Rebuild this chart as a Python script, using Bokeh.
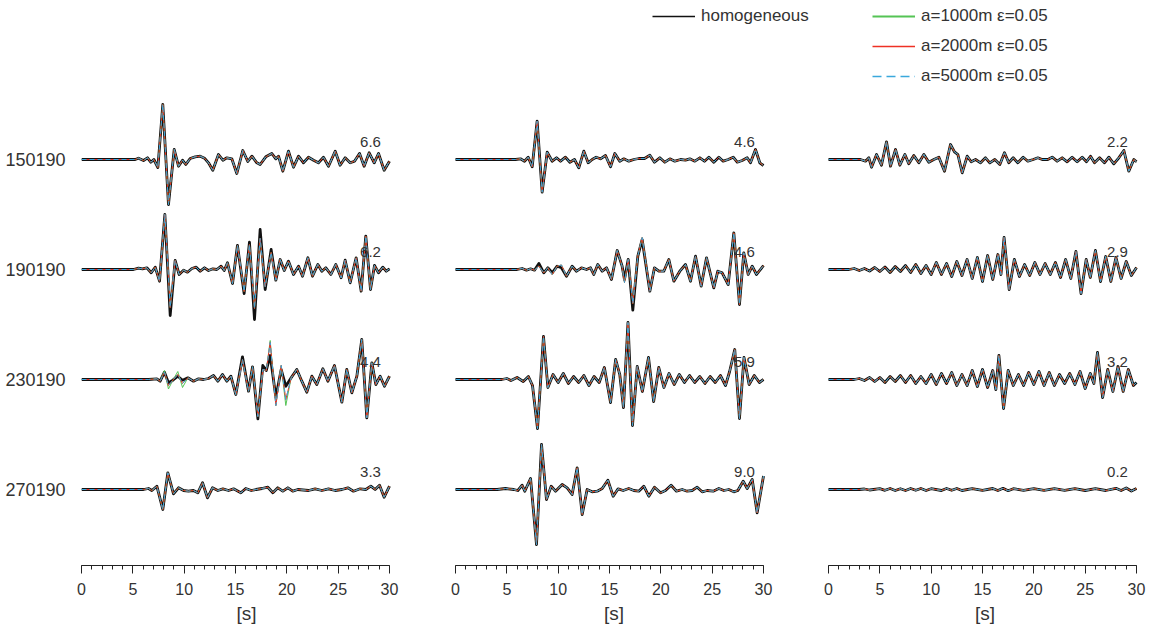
from bokeh.plotting import figure
from bokeh.models import Range1d, FixedTicker, SingleIntervalTicker, Legend, LegendItem
from bokeh.layouts import row
from bokeh.embed import file_html
from bokeh.resources import INLINE
from bokeh.core.properties import value

# ---------------------------------------------------------------- data
stations = ["150190", "190190", "230190", "270190"]

# peak values printed beside each trace, one list per column
peak_c1 = [6.6, 6.2, 4.4, 3.3]
peak_c2 = [4.6, 4.6, 5.9, 9.0]
peak_c3 = [2.2, 2.9, 3.2, 0.2]

# homogeneous model: (time [s], amplitude) at the turning points of each trace
w150190_c1 = [(0, 0), (5.23, 0), (5.55, 0.13), (6.04, -0.1), (6.43, 0.17), (6.75, -0.27), (7.05, 0), (7.44, -0.8),
              (7.92, 5.5), (8.47, -4.5), (9.03, 1.0), (9.45, -0.67), (9.84, -0.07), (10.16, -0.5), (10.58, 0.1),
              (11.07, 0.27), (11.56, 0.33), (11.98, 0.13), (12.37, -0.33), (12.79, -1.07), (13.34, 0.5), (13.77, -0.07),
              (14.16, 0.17), (14.64, 0.07), (15.13, -1.4), (15.71, 0.9), (16.2, -0.2), (16.6, 0.33), (17.08, -0.33),
              (17.4, -0.5), (17.95, 0.27), (18.54, 0.6), (18.93, 0.07), (19.19, 0.33), (19.61, -1.17), (20.16, 0.83),
              (20.65, -0.77), (21.14, 0.33), (21.62, -0.33), (22.11, 0.23), (22.6, -0.07), (23.08, -0.33), (23.57, 0.23),
              (24.06, -0.67), (24.71, 0.83), (25.19, -0.57), (25.68, 0.17), (26.17, -0.33), (26.59, -0.17), (27.08, 0.6),
              (27.53, -0.67), (28.02, 0.67), (28.51, -0.33), (28.93, 0.6), (29.48, -1.07), (30, -0.17)]
w190190_c1 = [(0, 0), (5.06, 0), (5.55, 0.13), (5.94, 0.07), (6.36, 0.17), (6.79, -0.33), (7.18, 0.23), (7.6, -1.17),
              (8.12, 5.5), (8.64, -4.6), (9.12, 0.9), (9.51, -0.5), (9.94, -0.07), (10.32, -0.27), (10.75, 0.1),
              (11.17, 0.23), (11.56, -0.17), (11.98, 0.17), (12.37, -0.1), (12.79, 0.07), (13.18, 0), (13.6, 0.33),
              (13.9, -0.1), (14.22, 0.67), (14.71, -1.4), (15.19, 2.4), (15.84, -2.4), (16.36, 2.73), (16.85, -5.0),
              (17.4, 4.0), (17.89, -2.0), (18.47, 2.0), (18.93, -1.07), (19.35, 1.0), (19.75, -0.1), (20.16, 0.83),
              (20.65, -0.5), (21.14, 0.33), (21.53, -0.67), (22.05, 1.17), (22.5, -0.67), (23.02, 0.5), (23.41, -0.17),
              (23.8, 0.17), (24.29, -0.5), (24.77, 0.5), (25.29, -0.83), (25.68, 0.93), (26.17, -1.33), (26.75, 1.17),
              (27.24, -2.17), (27.69, 3.33), (28.15, -2.0), (28.54, 0.4), (28.93, -0.33), (29.35, 0.23), (29.68, -0.17),
              (30, 0.07)]
w230190_c1 = [(0, 0), (6.53, 0), (7.34, 0.07), (7.66, -0.17), (8.08, 0.73), (8.47, -0.33), (8.9, -0.07), (9.38, 0.33),
              (9.84, -0.07), (10.36, 0.17), (10.91, -0.17), (11.4, 0.07), (11.88, 0), (12.37, 0.1), (12.86, 0.4),
              (13.28, -0.17), (13.73, 0.5), (14.16, -0.17), (14.55, 0.33), (15.03, -1.5), (15.68, 2.27), (16.27, -1.17),
              (16.66, 1.27), (17.18, -3.93), (17.66, 1.4), (18.0, 0.9), (18.38, 2.4), (18.93, -1.77), (19.45, 1.0),
              (19.9, -0.67), (20.42, 0.17), (20.97, 1.0), (21.46, -0.17), (21.95, -1.27), (22.44, 0.33), (22.92, -0.5),
              (23.51, 1.07), (24.0, -0.17), (24.64, 1.4), (25.36, -2.27), (25.84, 1.0), (26.33, -1.33), (26.82, 0.33),
              (27.3, 4.0), (27.79, -3.83), (28.28, 1.67), (28.67, -0.5), (29.09, 0.33), (29.51, -0.67), (30, 0.33)]
w270190_c1 = [(0, 0), (6.04, 0), (6.53, 0.1), (6.85, -0.1), (7.34, 0.33), (7.92, -2.0), (8.41, 1.67), (8.96, -0.43),
              (9.45, 0.17), (9.94, -0.1), (10.42, -0.17), (10.9, -0.1), (11.33, -0.33), (11.79, 0.67), (12.27, -0.83),
              (12.76, 0.17), (13.28, -0.1), (13.77, 0.07), (14.32, -0.1), (14.81, 0.07), (15.52, -0.33), (16.0, 0.1),
              (16.53, -0.1), (17.01, 0), (17.56, 0.1), (18.15, 0.23), (18.64, -0.33), (19.12, 0.17), (19.61, -0.17),
              (20.1, 0.17), (20.58, -0.17), (21.07, 0), (22.11, -0.1), (22.76, 0.07), (23.41, -0.1), (24.06, 0.07),
              (24.71, -0.1), (25.36, 0), (25.94, 0.17), (26.49, -0.17), (27.14, 0.07), (27.69, 0), (28.18, 0.33),
              (28.6, 0), (29.03, 0.43), (29.48, -0.77), (30, 0.33)]

w150190_c2 = [(0, 0), (5.84, 0), (6.33, 0.07), (6.72, -0.17), (7.08, 0.23), (7.47, -0.73), (7.95, 3.83), (8.44, -3.27),
              (8.93, 0.73), (9.42, -0.17), (9.84, 0.17), (10.23, -0.17), (10.71, 0.23), (11.14, -0.27), (11.59, 0),
              (12.01, -0.83), (12.5, 0.83), (12.92, -0.33), (13.31, 0), (13.7, 0.23), (14.12, 0.07), (14.61, 0.4),
              (15.1, -0.73), (15.52, 0.6), (16.0, -0.17), (16.4, 0.07), (16.88, -0.17), (17.37, 0), (17.86, 0.1),
              (18.41, 0.1), (18.93, 0.43), (19.38, -0.27), (19.9, 0.17), (20.39, -0.27), (20.88, 0.07), (21.36, -0.17),
              (21.92, 0), (22.4, -0.07), (22.82, 0.07), (23.31, -0.17), (23.8, 0.17), (24.25, -0.17), (24.68, 0.23),
              (25.16, -0.27), (25.65, 0.23), (26.07, -0.17), (26.56, 0), (27.05, 0.23), (27.44, -0.27), (27.92, -0.1),
              (28.41, 0.17), (28.73, -0.33), (29.22, 1.0), (29.64, -0.33), (30, -0.6)]
w190190_c2 = [(0, 0), (6.0, 0), (6.49, 0.1), (6.92, -0.07), (7.31, 0.07), (7.69, -0.07), (8.12, 0.6), (8.6, -0.33),
              (8.99, 0.17), (9.42, -0.33), (9.9, 0.33), (10.32, 0.17), (10.81, -0.67), (11.36, 0.33), (11.79, -0.17),
              (12.27, 0.17), (12.76, 0), (13.15, 0.17), (13.47, -0.5), (13.86, 0.5), (14.29, -0.17), (14.71, 0.17),
              (15.19, -1.0), (15.75, 1.9), (16.23, 0.33), (16.46, -1.0), (16.82, 1.0), (17.27, -4.07), (17.76, 1.33),
              (18.18, 3.0), (18.93, -2.17), (19.38, 0.17), (19.81, -0.17), (20.29, -0.17), (20.78, 1.0), (21.27, -1.17),
              (21.85, -0.17), (22.4, 0.5), (22.89, -1.17), (23.38, 1.33), (23.93, -1.67), (24.45, 1.17), (25.16, -1.83),
              (25.55, -0.17), (25.97, -0.33), (26.56, -1.5), (27.11, 3.67), (27.66, -3.5), (28.08, 1.67), (28.51, -0.5),
              (28.9, 0.33), (29.32, -0.5), (30, 0.4)]
w230190_c2 = [(0, 0), (4.5, 0), (5.0, 0.1), (5.4, -0.1), (6.0, 0.2), (6.6, -0.2), (7.1, 0.3), (7.5, -0.6), (7.99, -4.9),
              (8.57, 4.3), (9.0, -0.8), (9.5, 0.5), (10.0, -0.3), (10.5, 0.6), (11.0, -0.4), (11.5, 0.3), (12.0, -0.3),
              (12.5, 0.4), (13.0, -0.6), (13.5, 0.3), (14.0, -0.3), (14.5, 1.2), (15.1, -2.3), (15.6, 2.0), (16.0, 0.5),
              (16.36, -2.8), (16.8, 5.7), (17.24, -4.6), (17.7, 1.3), (18.2, -1.2), (18.8, 2.2), (19.3, -2.2),
              (19.8, 1.2), (20.3, -0.8), (20.8, 0.6), (21.3, -0.5), (21.8, 0.5), (22.3, -0.3), (22.8, 0.4), (23.3, -0.3),
              (23.8, 0.3), (24.3, -0.4), (24.8, 0.3), (25.3, -0.3), (25.8, 0.4), (26.3, -0.6), (26.7, 0.8), (27.2, 3.0),
              (27.66, -3.9), (28.1, 2.2), (28.6, -0.5), (29.1, 0.4), (29.6, -0.3), (30, 0)]
w270190_c2 = [(0, 0), (4.06, 0), (4.87, 0.1), (5.68, 0), (6.07, -0.1), (6.49, 0.43), (6.75, -0.17), (7.31, 1.1),
              (7.89, -5.5), (8.38, 4.5), (8.86, -1.0), (9.32, 0.33), (9.74, -0.17), (10.39, 0.5), (10.88, 0.17),
              (11.36, -0.5), (11.85, 2.17), (12.34, -2.5), (12.82, 0), (13.31, -0.23), (13.8, -0.17), (14.29, 0.1),
              (14.84, 0.93), (15.36, -0.67), (15.84, 0.07), (16.33, -0.1), (16.88, 0.1), (17.37, -0.1), (17.85, -0.17),
              (18.34, 0.33), (18.83, -0.67), (19.38, 0.23), (19.97, -0.33), (20.45, -0.1), (21.0, 0.43), (21.53, -0.17),
              (22.08, 0), (22.56, -0.17), (23.05, -0.1), (23.54, 0.23), (24.03, -0.23), (24.51, -0.1), (25.1, -0.17),
              (25.65, 0.1), (26.14, -0.1), (26.62, 0), (27.11, -0.23), (27.5, -0.1), (28.02, 0.83), (28.41, 0.1),
              (28.9, 1.0), (29.38, -2.33), (30, 1.35)]

w150190_c3 = [(0, 0), (3.12, 0), (3.6, -0.17), (3.93, 0.17), (4.19, -0.77), (4.68, 0.5), (5.16, -0.57), (5.65, 1.77),
              (6.04, -0.67), (6.53, 1.0), (6.95, -0.57), (7.44, 0.5), (7.82, -0.43), (8.31, 0.4), (8.8, -0.33),
              (9.29, 0.5), (9.77, -0.27), (10.26, 0), (10.75, 0.23), (11.3, -1.17), (11.88, 1.5), (12.27, 0.77),
              (12.6, 0.5), (13.02, -1.33), (13.51, 0.33), (13.9, -0.23), (14.32, 0), (14.81, -0.33), (15.29, 0.17),
              (15.71, -0.33), (16.2, 0), (16.69, -0.5), (17.14, 0.67), (17.56, -0.33), (17.99, 0.17), (18.44, -0.33),
              (18.96, 0.23), (19.42, -0.17), (19.94, 0), (20.39, 0.17), (20.81, 0), (21.36, 0), (21.79, 0.23),
              (22.27, -0.17), (22.76, 0.17), (23.25, -0.23), (23.73, 0.23), (24.22, -0.23), (24.71, 0.23),
              (25.13, -0.23), (25.52, 0.33), (25.91, -0.33), (26.4, 0.17), (26.88, -0.33), (27.31, 0.23),
              (27.79, -0.43), (28.28, 0.17), (28.77, 0.9), (29.25, -1.17), (29.74, 0), (30, -0.23)]
w190190_c3 = [(0, 0), (2.0, 0), (2.5, 0.1), (3.0, -0.1), (3.5, 0.1), (4.0, -0.15), (4.5, 0.2), (5.0, -0.2), (5.5, 0.25),
              (6.0, -0.3), (6.5, 0.3), (7.0, -0.2), (7.5, 0.4), (8.0, -0.3), (8.5, 0.5), (9.0, -0.4), (9.5, 0.4),
              (10.0, -0.5), (10.5, 0.7), (11.0, -0.5), (11.5, 0.6), (12.0, -0.7), (12.5, 0.8), (13.0, -0.6), (13.5, 1.0),
              (14.0, -0.9), (14.5, 1.2), (15.0, -1.2), (15.5, 1.4), (16.0, -1.0), (16.5, 1.5), (16.8, -0.5), (17.1, 3.2),
              (17.6, -2.0), (18.1, 1.0), (18.6, -0.7), (19.1, 0.5), (19.6, -0.6), (20.1, 0.7), (20.6, -0.5), (21.1, 0.6),
              (21.6, -0.5), (22.1, 0.7), (22.6, -0.8), (23.1, 1.0), (23.6, -0.9), (24.1, 1.8), (24.6, -2.4), (25.1, 1.0),
              (25.5, -0.8), (26.0, 1.9), (26.5, -1.2), (27.0, 1.3), (27.5, -1.2), (28.0, 1.2), (28.5, -0.9), (29.0, 0.8),
              (29.5, -0.6), (30, 0.2)]
w230190_c3 = [(0, 0), (2.5, 0), (3.0, 0.1), (3.5, -0.1), (4.0, 0.2), (4.5, -0.2), (5.0, 0.2), (5.5, -0.3), (6.0, 0.3),
              (6.5, -0.2), (7.0, 0.4), (7.5, -0.3), (8.0, 0.4), (8.5, -0.4), (9.0, 0.3), (9.5, -0.4), (10.0, 0.5),
              (10.5, -0.5), (11.0, 0.6), (11.5, -0.4), (12.0, 0.7), (12.5, -0.6), (13.0, 0.5), (13.5, -0.6), (14.0, 0.9),
              (14.5, -0.7), (15.0, 1.0), (15.5, -0.8), (16.0, 0.9), (16.3, -1.0), (16.6, 2.4), (17.05, -2.9),
              (17.5, 0.9), (18.0, -0.6), (18.5, 0.5), (19.0, -0.6), (19.5, 0.7), (20.0, -0.5), (20.5, 0.8), (21.0, -0.6),
              (21.5, 0.7), (22.0, -0.6), (22.5, 0.5), (23.0, -0.4), (23.5, 0.6), (24.0, -0.5), (24.5, 0.8), (25.0, -0.9),
              (25.5, 0.6), (25.85, -0.4), (26.2, 2.7), (26.7, -1.8), (27.2, 1.0), (27.7, -1.2), (28.2, 1.3),
              (28.7, -1.2), (29.2, 1.0), (29.7, -0.6), (30, -0.3)]
w270190_c3 = [(0, 0), (3.0, 0), (3.5, 0.05), (4.0, -0.05), (5.0, 0.08), (5.5, -0.08), (6.0, 0.1), (6.5, -0.1),
              (7.0, 0.08), (7.5, -0.1), (8.0, 0.1), (8.5, -0.08), (9.0, 0.1), (9.5, -0.1), (10.0, 0.08), (11.0, -0.1),
              (11.5, 0.1), (12.0, -0.08), (12.5, 0.1), (13.0, -0.1), (14.0, 0.08), (15.0, -0.08), (16.0, 0.1),
              (16.5, -0.1), (17.0, 0.12), (17.5, -0.12), (18.0, 0.08), (19.0, -0.08), (20.0, 0.08), (21.0, -0.08),
              (22.0, 0.08), (23.0, -0.08), (24.0, 0.08), (25.0, -0.1), (26.0, 0.08), (27.0, -0.1), (28.0, 0.12),
              (28.5, -0.1), (29.0, 0.15), (29.5, -0.15), (30, 0.1)]

# scattering models: amplitudes that depart from the homogeneous trace (time -> amplitude)
scat_190190_c1 = {8.64: -3.8, 15.84: -2.2, 16.36: 2.5, 16.85: -3.9, 17.4: 3.1, 17.89: -1.7, 18.47: 1.7}
scat_230190_c1 = {8.47: -0.6, 9.38: 0.5, 9.84: -0.4, 15.68: 2.0, 17.18: -3.7, 17.66: 1.0, 18.38: 3.7,
                  18.93: -2.6, 19.45: 1.4, 19.9: -2.0}
scat_190190_c2 = {8.12: 0.35, 9.42: -0.5, 10.32: 0.45, 16.46: -1.3, 17.27: -3.4, 18.18: 3.2}
# a=1000 m only
a1000_230190_c1 = {8.08: 0.9, 8.47: -0.95, 9.38: 0.8, 9.84: -0.8, 18.38: 3.9, 19.9: -2.6}

columns = [
    [w150190_c1, w190190_c1, w230190_c1, w270190_c1],
    [w150190_c2, w190190_c2, w230190_c2, w270190_c2],
    [w150190_c3, w190190_c3, w230190_c3, w270190_c3],
]
peaks = [peak_c1, peak_c2, peak_c3]
scat = {(1, 0): scat_190190_c1, (2, 0): scat_230190_c1, (1, 1): scat_190190_c2}
a1000_extra = {(2, 0): a1000_230190_c1}

# ---------------------------------------------------------------- layout
PX_PER_S = 308 / 30.0          # horizontal scale, pixels per second
PX_PER_UNIT = 10.0             # vertical scale, pixels per amplitude unit
ROW_STEP = 11                  # spacing of the traces, amplitude units
FRAME_H = 565
Y_TOP = 15.9
axis_x0 = [81, 455, 828]       # page position of t = 0 for each column
frame_left = [81, 411, 816]
frame_right = [411, 816, 1153]

FONT = "Liberation Sans"
TXT = "#333333"
C_HOM = "#111111"
C_A1 = "#55c455"
C_A2 = "#ee3124"
C_A5 = "#3aa8dc"
NAN = float("nan")


def shifted(pairs, overrides, extra=None):
    out = []
    for t, a in pairs:
        if extra and t in extra:
            a = extra[t]
        elif t in overrides:
            a = overrides[t]
        out.append(a)
    return out


def make_legend(items, x, y):
    return Legend(items=items, location=(x, y), orientation="vertical",
                  glyph_width=43, glyph_height=20, label_height=20, label_standoff=6,
                  spacing=10, padding=0, margin=0, border_line_alpha=0, background_fill_alpha=0,
                  label_text_font=FONT, label_text_font_size="17px", label_text_color=TXT)


figs = []
for c in range(3):
    x0 = (frame_left[c] - axis_x0[c]) / PX_PER_S
    x1 = (frame_right[c] - axis_x0[c]) / PX_PER_S
    p = figure(frame_width=frame_right[c] - frame_left[c], frame_height=FRAME_H,
               x_range=Range1d(x0, x1), y_range=Range1d(Y_TOP - FRAME_H / PX_PER_UNIT, Y_TOP),
               output_backend="svg", toolbar_location=None,
               y_axis_location="left" if c == 0 else None,
               min_border_left=81 if c == 0 else 0, min_border_right=0,
               min_border_top=0, min_border_bottom=66)
    p.outline_line_color = None
    p.xgrid.visible = False
    p.ygrid.visible = False
    p.background_fill_color = "white"
    p.border_fill_color = "white"

    xa = p.xaxis[0]
    xa.ticker = SingleIntervalTicker(interval=5, num_minor_ticks=5)
    xa.bounds = (0, 30)
    xa.axis_label = "[s]"
    xa.axis_label_text_font = FONT
    xa.axis_label_text_font_style = "normal"
    xa.axis_label_text_font_size = "19px"
    xa.axis_label_text_color = TXT
    xa.axis_label_standoff = 5
    xa.major_label_text_font = FONT
    xa.major_label_text_font_size = "16px"
    xa.major_label_text_color = TXT
    xa.major_label_standoff = 9
    xa.axis_line_color = "#222222"
    xa.major_tick_line_color = "#222222"
    xa.minor_tick_line_color = "#222222"
    xa.major_tick_in = 0
    xa.major_tick_out = 8
    xa.minor_tick_in = 0
    xa.minor_tick_out = 4

    if c == 0:
        ya = p.yaxis[0]
        ya.ticker = FixedTicker(ticks=[-ROW_STEP * i for i in range(4)])
        ya.major_label_overrides = {-ROW_STEP * i: s for i, s in enumerate(stations)}
        ya.axis_line_color = None
        ya.major_tick_line_color = None
        ya.minor_tick_line_color = None
        ya.major_label_text_font = FONT
        ya.major_label_text_font_size = "18px"
        ya.major_label_text_color = TXT
        ya.major_label_standoff = 10

    for r in range(4):
        pairs = columns[c][r]
        base = -ROW_STEP * r
        ts = [t for t, _ in pairs]
        hom = [a + base for _, a in pairs]
        ov = scat.get((r, c), {})
        sc = [a + base for a in shifted(pairs, ov)]
        g = [a + base for a in shifted(pairs, ov, a1000_extra.get((r, c)))]
        p.line(ts, hom, line_color=C_HOM, line_width=2.8, line_join="round")
        p.line(ts, g, line_color=C_A1, line_width=1.0, line_join="round")
        p.line(ts, sc, line_color=C_A2, line_width=1.0, line_join="round")
        p.line(ts, sc, line_color=C_A5, line_width=1.0, line_dash="5 3", line_join="round")
        p.text(x=[28.15], y=[base + 1.8], text=["%.1f" % peaks[c][r]],
               text_font=value(FONT), text_font_size="15px", text_color=TXT,
               text_align="center", text_baseline="middle")

    # legend swatches: renderers that hold no drawable point
    if c == 1:
        sw = p.line([NAN], [NAN], line_color=C_HOM, line_width=1.6)
        p.add_layout(make_legend([LegendItem(label="homogeneous", renderers=[sw])],
                                 652 - frame_left[1], FRAME_H - 6 - 20))
    if c == 2:
        sg = p.line([NAN], [NAN], line_color=C_A1, line_width=1.8)
        sr = p.line([NAN], [NAN], line_color=C_A2, line_width=1.4)
        sb = p.line([NAN], [NAN], line_color=C_A5, line_width=1.4, line_dash="9 5")
        p.add_layout(make_legend([LegendItem(label="a=1000m \u03b5=0.05", renderers=[sg]),
                                  LegendItem(label="a=2000m \u03b5=0.05", renderers=[sr]),
                                  LegendItem(label="a=5000m \u03b5=0.05", renderers=[sb])],
                                 872 - frame_left[2], FRAME_H - 6 - 80))
    figs.append(p)

layout = row(*figs, spacing=0)
open("out.html", "w").write(file_html(layout, INLINE))
